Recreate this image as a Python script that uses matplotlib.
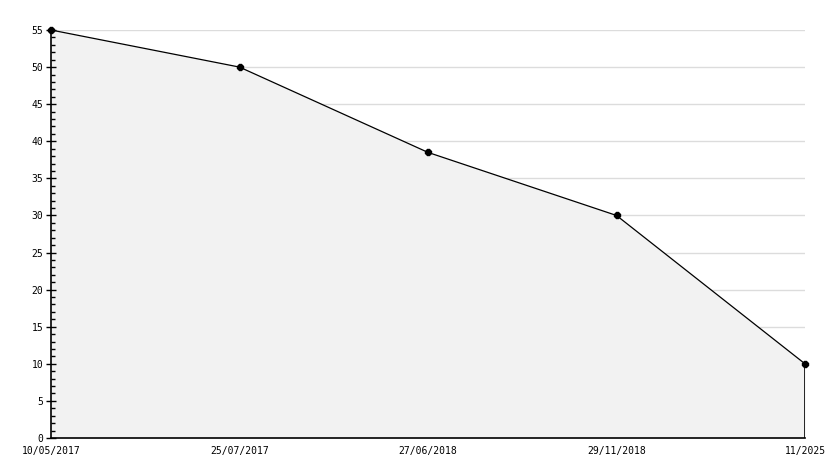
import matplotlib.pyplot as plt
from matplotlib.ticker import MultipleLocator

# data
dates = ['10/05/2017', '25/07/2017', '27/06/2018', '29/11/2018', '11/2025']
values = [55, 50, 38.5, 30, 10]
yticks = list(range(0, 60, 5))

plt.rcParams['font.family'] = 'DejaVu Sans Mono'

fig = plt.figure(figsize=(8.34, 4.68), dpi=100)
ax = fig.add_axes([51 / 834, 30 / 468, 754 / 834, 408 / 468])

x = list(range(len(dates)))

# grid lines drawn by hand so they stay behind the fill while ticks stay on top
ax.hlines(yticks[1:], 0, x[-1], color='#dcdcdc', linewidth=1, zorder=0)

ax.fill_between(x, values, 0, color='#f2f2f2', zorder=1, linewidth=0)
ax.plot(x, values, color='black', linewidth=0.9, marker='8', markersize=5,
        zorder=3, clip_on=False)
ax.vlines(x[-1], 0, values[-1], color='black', linewidth=1.2, zorder=3)

ax.set_xlim(0, len(dates) - 1)
ax.set_ylim(0, 55)
ax.set_xticks(x)
ax.set_xticklabels(dates, fontsize=7)
ax.set_yticks(yticks)
ax.set_yticklabels([str(t) for t in yticks], fontsize=7)
ax.yaxis.set_minor_locator(MultipleLocator(1))

ax.tick_params(axis='x', length=0, pad=6)
ax.tick_params(axis='y', which='major', direction='inout', length=7, width=1, pad=2)
ax.tick_params(axis='y', which='minor', direction='in', length=3, width=1)

for side in ['top', 'right']:
    ax.spines[side].set_visible(False)
for side in ['left', 'bottom']:
    ax.spines[side].set_linewidth(1.2)
    ax.spines[side].set_zorder(4)

fig.savefig('out.png', dpi=100)
